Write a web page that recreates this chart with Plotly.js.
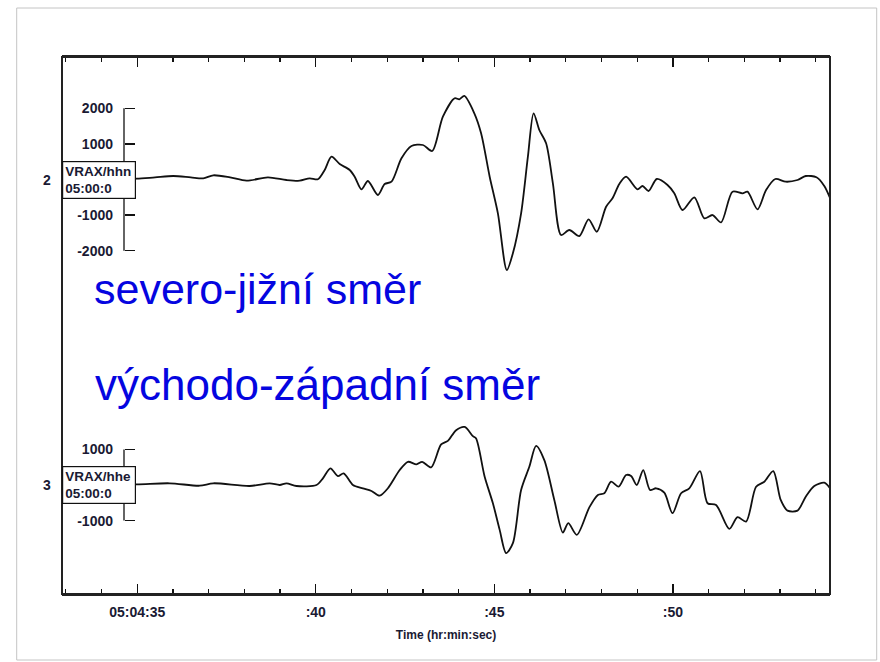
<!DOCTYPE html>
<html>
<head>
<meta charset="utf-8">
<script src="https://cdn.plot.ly/plotly-3.0.1.min.js"></script>
<style>html,body{margin:0;padding:0;background:#fff;}#chart{width:880px;height:662px;}</style>
</head>
<body>
<div id="chart"></div>
<script>
// ---- data ----
const timeN = [32.9,33.5,34.2,34.98,35.5,36.01,36.5,36.85,37.13,37.6,38.06,38.66,39.18,39.55,39.83,40.06,40.25,40.44,40.67,40.95,41.09,41.28,41.46,41.74,41.93,42.12,42.40,42.68,43.00,43.26,43.56,43.89,44.02,44.16,44.44,44.63,44.87,45.10,45.35,45.52,45.75,45.94,46.10,46.26,46.45,46.64,46.87,47.10,47.38,47.64,47.87,48.13,48.31,48.50,48.69,49.01,49.15,49.32,49.55,49.85,50.04,50.27,50.60,50.88,51.11,51.35,51.67,51.95,52.09,52.37,52.61,52.87,53.16,53.49,53.72,54.02,54.24,54.40];
const ampN  = [0,30,-10,22,60,98,60,34,118,60,-34,62,-14,-34,34,6,267,641,436,267,79,-275,-42,-436,-126,-62,596,941,969,801,1765,2282,2254,2346,1860,1298,79,-950,-2543,-2074,-950,641,1860,1391,1017,-107,-1560,-1419,-1588,-1118,-1467,-764,-528,-126,79,-275,-183,-323,14,-155,-388,-857,-500,-1090,-998,-1203,-343,-388,-343,-837,-295,14,-62,-14,98,62,-183,-520];

const timeE = [32.9,34.98,35.91,36.75,37.13,38.15,38.71,38.99,39.18,39.46,40.02,40.20,40.41,40.62,40.78,41.04,41.32,41.56,41.79,42.02,42.35,42.58,42.82,42.98,43.23,43.51,43.70,43.93,44.17,44.40,44.49,44.73,44.96,45.15,45.33,45.52,45.75,45.98,46.17,46.40,46.68,46.92,47.07,47.31,47.66,47.90,48.08,48.27,48.48,48.69,48.83,48.99,49.17,49.36,49.53,49.76,49.99,50.23,50.46,50.76,50.97,51.21,51.58,51.81,52.05,52.33,52.56,52.81,53.02,53.21,53.49,53.72,53.96,54.24,54.40];
const ampE  = [0,20,48,-20,48,-28,48,0,48,-28,0,188,468,252,328,0,-92,-168,-300,-92,420,652,580,652,496,1140,1240,1540,1632,1372,1308,232,-512,-1260,-1912,-1632,-140,512,1100,700,-420,-1336,-1072,-1400,-630,-280,-232,92,-48,280,252,0,420,-140,-92,-216,-792,-232,-92,392,-512,-560,-1232,-904,-1028,-48,92,392,-420,-720,-720,-328,-28,64,-92];

const xTickVals = [35,40,45,50];
const xTickText = ['05:04:35', ':40', ':45', ':50'];
const yTickValsN = [2000,1000,-1000,-2000];
const yTickTextN = ['2000','1000','-1000','-2000'];
const yTickValsE = [1000,-1000];
const yTickTextE = ['1000','-1000'];
const channelN = ['2', 'VRAX/hhn<br>05:00:0'];
const channelE = ['3', 'VRAX/hhe<br>05:00:0'];
const captionN = 'severo-jižní směr';
const captionE = 'východo-západní směr';
const xTitle = 'Time (hr:min:sec)';

// ---- layout geometry (pixels) ----
const W = 880, H = 662;
const mL = 62, mR = 50, mT = 57, mB = 68;
const pw = W - mL - mR, ph = H - mT - mB;
const plotBottom = H - mB;
const pxPerUnit = 0.0356;
const zeroN = 179.5, zeroE = 485;
const axisX = 124;
const px2paperX = p => (p - mL) / pw;
const px2paperY = p => (plotBottom - p) / ph;
const rangeFor = z => [(z - plotBottom) / pxPerUnit, (z - mT) / pxPerUnit];

const labelFont = {family: 'Liberation Sans, Arial, sans-serif', size: 14, color: '#1a1a33', weight: 'bold'};
const boxFont = {family: 'Liberation Sans, Arial, sans-serif', size: 13.5, color: '#1a1a33', weight: 'bold'};
const blueFont = {family: 'Liberation Sans, Arial, sans-serif', size: 43, color: '#0505e0'};

const traces = [
  {x: timeN, y: ampN, type: 'scatter', mode: 'lines', xaxis: 'x', yaxis: 'y',
   line: {color: '#111', width: 1.8, shape: 'spline', smoothing: 0.8}, hoverinfo: 'skip'},
  {x: timeE, y: ampE, type: 'scatter', mode: 'lines', xaxis: 'x', yaxis: 'y2',
   line: {color: '#111', width: 1.8, shape: 'spline', smoothing: 0.8}, hoverinfo: 'skip'}
];

const yCommon = {
  anchor: 'free', position: px2paperX(axisX), side: 'left',
  showline: false, showgrid: false, zeroline: false,
  ticks: 'inside', ticklen: 10, tickwidth: 1.3, tickcolor: '#111',
  ticklabelstandoff: 11, tickfont: labelFont, fixedrange: true
};

const layout = {
  width: W, height: H,
  margin: {l: mL, r: mR, t: mT, b: mB, pad: 0},
  paper_bgcolor: '#fff', plot_bgcolor: '#fff',
  showlegend: false,
  xaxis: {
    range: [32.894, 54.40], showgrid: false, zeroline: false,
    showline: true, linecolor: '#222', linewidth: 2, mirror: 'ticks',
    ticks: 'inside', ticklen: 10, tickwidth: 1.3, tickcolor: '#111',
    tickvals: xTickVals, ticktext: xTickText, tickfont: labelFont,
    ticklabelstandoff: 4,
    minor: {dtick: 1, tick0: 0, ticks: 'inside', ticklen: 5, tickwidth: 1.2, tickcolor: '#111', showgrid: false},
    title: {text: xTitle, font: {family: 'Liberation Sans, Arial, sans-serif', size: 12, color: '#1a1a33', weight: 'bold'}, standoff: 12}
  },
  yaxis: Object.assign({}, yCommon, {range: rangeFor(zeroN), tickvals: yTickValsN, ticktext: yTickTextN}),
  yaxis2: Object.assign({}, yCommon, {range: rangeFor(zeroE), tickvals: yTickValsE, ticktext: yTickTextE, overlaying: 'y'}),
  shapes: [
    {type: 'rect', xref: 'paper', yref: 'paper', x0: 0, x1: 1, y0: 0, y1: 1, line: {color: '#222', width: 2}, layer: 'above'},
    {type: 'rect', xref: 'paper', yref: 'paper', x0: px2paperX(16.7), x1: px2paperX(876.7), y0: px2paperY(660), y1: px2paperY(8), line: {color: '#c4c4c4', width: 1}},
    {type: 'line', xref: 'paper', yref: 'y', x0: px2paperX(axisX), x1: px2paperX(axisX), y0: yTickValsN[3], y1: yTickValsN[0], line: {color: '#111', width: 1.3}},
    {type: 'line', xref: 'paper', yref: 'y2', x0: px2paperX(axisX), x1: px2paperX(axisX), y0: yTickValsE[1], y1: yTickValsE[0], line: {color: '#111', width: 1.3}}
  ],
  annotations: [
    {xref: 'paper', yref: 'y', x: px2paperX(47), y: 0, text: channelN[0], showarrow: false, xanchor: 'center', yanchor: 'middle', font: labelFont},
    {xref: 'paper', yref: 'y2', x: px2paperX(47), y: 0, text: channelE[0], showarrow: false, xanchor: 'center', yanchor: 'middle', font: labelFont},
    {xref: 'paper', yref: 'y', x: 0, y: 0, text: channelN[1], showarrow: false, xanchor: 'left', yanchor: 'middle', align: 'left',
     width: 68, height: 32, borderpad: 2, bordercolor: '#111', borderwidth: 1.2, bgcolor: '#fff', font: boxFont},
    {xref: 'paper', yref: 'y2', x: 0, y: 0, text: channelE[1], showarrow: false, xanchor: 'left', yanchor: 'middle', align: 'left',
     width: 68, height: 32, borderpad: 2, bordercolor: '#111', borderwidth: 1.2, bgcolor: '#fff', font: boxFont},
    {xref: 'paper', yref: 'paper', x: px2paperX(92), y: px2paperY(289), text: captionN, showarrow: false, xanchor: 'left', yanchor: 'middle', font: blueFont},
    {xref: 'paper', yref: 'paper', x: px2paperX(93), y: px2paperY(384), text: captionE, showarrow: false, xanchor: 'left', yanchor: 'middle', font: Object.assign({}, blueFont, {size: 44})}
  ]
};

Plotly.newPlot('chart', traces, layout, {staticPlot: true, displayModeBar: false});
</script>
</body>
</html>
